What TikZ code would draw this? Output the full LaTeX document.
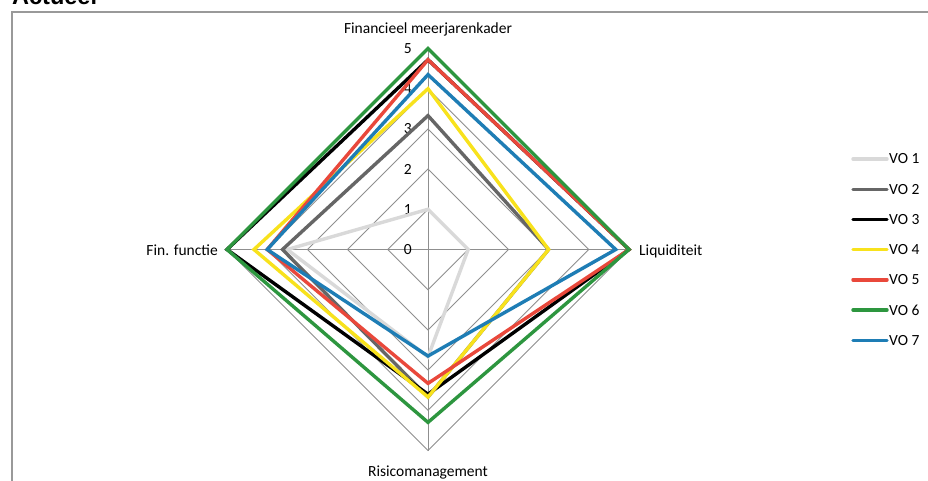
\documentclass[tikz,border=0pt]{standalone}
\usepackage{fontspec}
\setmainfont{Carlito}
\newfontfamily\titlefont{Liberation Sans}
\definecolor{vocA}{HTML}{D9D9D9}
\definecolor{vocB}{HTML}{666666}
\definecolor{vocC}{HTML}{000000}
\definecolor{vocD}{HTML}{F8E21C}
\definecolor{vocE}{HTML}{E9483B}
\definecolor{vocF}{HTML}{2D963F}
\definecolor{vocG}{HTML}{1E7DB5}
\definecolor{gridgray}{HTML}{8F8F8F}
\definecolor{framegray}{HTML}{999999}
\tikzset{
  gridline/.style={draw=gridgray, line width=0.9pt},
  serie/.style={line width=3.4pt, line join=miter},
  legline/.style={line width=3.4pt, line cap=round},
  lbl/.style={inner sep=0pt, font=\fontsize{15.5}{18}\selectfont},
  ticklbl/.style={inner sep=0pt, anchor=east, font=\fontsize{15.5}{18}\selectfont},
}
\begin{document}
\begin{tikzpicture}[x=1pt,y=-1pt]
\useasboundingbox (0,0) rectangle (928,481);
\clip (0,0) rectangle (928,481);
\fill[white] (0,0) rectangle (928,481);
% frame
\coordinate (fbl) at (12,485);
\coordinate (ftl) at (12,12);
\coordinate (ftr) at (932,12);
\draw[framegray, line width=1.3pt] (fbl) -- (ftl) -- (ftr);
% title
\node[anchor=base west, inner sep=0pt, font=\titlefont\bfseries\fontsize{23.5}{28}\selectfont] (title) at (12,5) {Actueel};
% radar
\begin{scope}[shift={(428,249.5)}, x=40.2pt, y=40.2pt]
  \coordinate (c) at (0,0);
  \coordinate (top) at (0,5);
  \coordinate (right) at (5,0);
  \coordinate (bottom) at (0,-5);
  \coordinate (left) at (-5,0);
  \foreach \r in {1,...,5}
    \draw[gridline] (0,\r) -- (\r,0) -- (0,-\r) -- (-\r,0) -- cycle;
  \draw[gridline] (c) -- (top);
  \draw[gridline] (c) -- (right);
  \draw[gridline] (c) -- (bottom);
  \draw[gridline] (c) -- (left);
  \foreach \r in {0,...,5}
    \node[ticklbl] (tick\r) at (-0.4,\r) {\r};
  % series
  \draw[serie, vocA] (0,1) -- (1,0) -- (0,-2.67) -- (-3.5,0) -- cycle;
  \draw[serie, vocB] (0,3.33) -- (3,0) -- (0,-3.67) -- (-3.62,0) -- cycle;
  \draw[serie, vocC] (0,4.72) -- (5,0) -- (0,-3.6) -- (-5,0) -- cycle;
  \draw[serie, vocD] (0,4) -- (3,0) -- (0,-3.67) -- (-4.33,0) -- cycle;
  \draw[serie, vocE] (0,4.72) -- (5,0) -- (0,-3.33) -- (-4,0) -- cycle;
  \draw[serie, vocF] (0,5) -- (5,0) -- (0,-4.3) -- (-5,0) -- cycle;
  \draw[serie, vocG] (0,4.35) -- (4.67,0) -- (0,-2.65) -- (-4,0) -- cycle;
\end{scope}
% axis labels
\node[lbl, anchor=base] (lfin) at (428,34) {Financieel meerjarenkader};
\node[lbl, anchor=base east] (lfun) at (218,255) {Fin. functie};
\node[lbl, anchor=base west] (lliq) at (639,255) {Liquiditeit};
\node[lbl, anchor=base] (lrisk) at (428,476) {Risicomanagement};
% legend
\foreach \i/\c [count=\k from 0] in {1/vocA,2/vocB,3/vocC,4/vocD,5/vocE,6/vocF,7/vocG} {
  \coordinate (la\i) at (853,{159+30.2*\k});
  \coordinate (lb\i) at (887,{159+30.2*\k});
  \draw[legline, \c] (la\i) -- (lb\i);
  \node[lbl, anchor=west] (leg\i) at (889,{159+30.2*\k}) {VO \i};
}
\end{tikzpicture}
\end{document}
